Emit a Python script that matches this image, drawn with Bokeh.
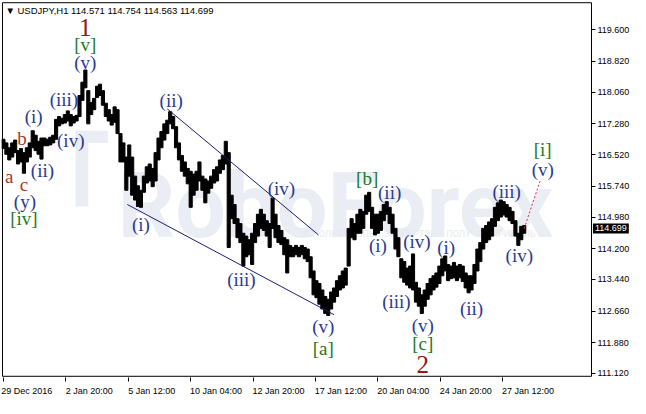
from bokeh.plotting import figure
from bokeh.models import FixedTicker, Label, Range1d, PrintfTickFormatter, LinearAxis
from bokeh.core.properties import value
from bokeh.embed import file_html
from bokeh.resources import INLINE

# ---------------- data ----------------
bar_index = list(range(0, 535, 3))
bar_high = [116.90, 116.81, 116.69, 116.81, 116.88, 116.62, 116.67, 116.57, 116.69, 116.81,
            117.11, 117.00, 116.85, 116.93, 116.93, 116.90, 116.95, 117.00, 117.39, 117.46,
            117.42, 117.51, 117.60, 117.51, 117.46, 117.49, 117.98, 118.31, 118.61, 118.10,
            117.81, 117.91, 118.21, 118.26, 118.10, 117.79, 117.63, 117.51, 117.70, 117.63,
            117.04, 116.81, 116.46, 116.76, 116.46, 115.99, 115.75, 115.64, 115.99, 116.22,
            116.29, 116.18, 116.57, 116.93, 117.09, 117.28, 117.37, 117.58, 117.46, 117.21,
            116.81, 116.50, 116.34, 116.18, 116.11, 116.04, 116.11, 116.34, 115.99, 115.92,
            115.87, 115.99, 116.15, 116.22, 116.39, 116.50, 116.85, 116.57, 115.52, 115.29,
            114.94, 114.82, 114.58, 114.51, 114.42, 114.58, 114.82, 115.05, 115.17, 115.05,
            114.89, 114.82, 115.45, 115.05, 114.77, 114.65, 114.47, 114.42, 114.28, 114.23,
            114.28, 114.23, 114.28, 114.23, 114.19, 114.00, 113.65, 113.41, 113.34, 113.18,
            113.02, 112.95, 113.13, 113.23, 113.41, 113.53, 113.65, 113.72, 114.70, 114.94,
            114.82, 115.05, 115.17, 115.12, 115.52, 115.59, 115.22, 115.05, 115.05, 115.12,
            115.29, 115.36, 115.22, 115.05, 114.70, 114.47, 113.95, 113.88, 113.72, 113.77,
            114.07, 113.37, 113.23, 113.06, 113.18, 113.34, 113.46, 113.53, 113.60, 113.77,
            113.95, 114.02, 113.81, 113.77, 113.86, 113.77, 113.81, 113.77, 113.60, 113.53,
            113.53, 113.81, 114.19, 114.35, 114.70, 114.77, 114.86, 114.94, 115.22, 115.33,
            115.40, 115.36, 115.29, 115.22, 115.12, 114.89, 114.58, 114.75, 114.77]
bar_low = [116.67, 116.53, 116.39, 116.46, 116.57, 116.29, 116.34, 116.06, 116.34, 116.46,
           116.69, 116.62, 116.53, 116.41, 116.74, 116.74, 116.76, 116.81, 116.90, 117.23,
           117.28, 117.30, 117.35, 117.23, 117.30, 117.35, 117.46, 117.86, 118.17, 117.28,
           117.51, 117.63, 117.93, 117.98, 117.74, 117.46, 117.35, 117.25, 117.32, 117.04,
           116.34, 116.34, 115.64, 115.99, 115.52, 115.40, 115.24, 115.22, 115.59, 115.82,
           115.87, 115.73, 115.87, 116.39, 116.69, 116.88, 117.04, 117.28, 117.16, 116.69,
           116.39, 116.11, 115.99, 115.80, 115.22, 115.52, 115.64, 115.87, 115.64, 115.33,
           115.57, 115.69, 115.82, 115.87, 116.06, 116.15, 116.29, 114.23, 114.94, 114.82,
           114.47, 114.35, 113.77, 114.00, 114.05, 113.81, 114.35, 114.51, 114.70, 114.65,
           114.51, 114.23, 114.70, 114.47, 114.35, 114.30, 114.05, 113.60, 114.00, 114.00,
           114.05, 114.00, 114.05, 113.95, 113.88, 113.48, 113.06, 112.99, 112.83, 112.71,
           112.60, 112.55, 112.71, 112.88, 113.02, 113.18, 113.23, 113.30, 113.77, 114.47,
           114.42, 114.58, 114.58, 114.70, 115.05, 115.12, 114.70, 114.54, 114.58, 114.65,
           114.89, 115.05, 114.82, 114.58, 114.19, 114.00, 113.48, 113.37, 113.30, 113.23,
           113.18, 112.88, 112.78, 112.60, 112.78, 112.95, 113.06, 113.18, 113.25, 113.34,
           113.53, 113.65, 113.41, 113.46, 113.48, 113.41, 113.48, 113.39, 113.23, 113.11,
           113.18, 113.34, 113.65, 113.88, 114.19, 114.35, 114.42, 114.51, 114.75, 114.89,
           114.98, 115.03, 114.98, 114.89, 114.82, 114.51, 114.28, 114.42, 114.58]

last_price = 114.699
title_text = "\u25bc USDJPY,H1  114.571 114.754 114.563 114.699"

x_tick_pos = [0, 64, 128, 192, 256, 320, 384, 448, 512]
x_tick_labels = ["29 Dec 2016", "2 Jan 20:00", "5 Jan 12:00", "10 Jan 04:00", "12 Jan 20:00",
                 "17 Jan 12:00", "20 Jan 04:00", "24 Jan 20:00", "27 Jan 12:00"]
y_ticks = [111.12, 111.88, 112.66, 113.44, 114.20, 114.98, 115.74, 116.52, 117.28, 118.06, 118.82, 119.60]

# wave labels
blue_text = ["(v)", "(iii)", "(i)", "(iv)", "(ii)", "(y)", "(ii)", "(i)", "(iii)", "(iv)", "(v)",
             "(ii)", "(i)", "(iv)", "(iii)", "(v)", "(i)", "(ii)", "(iii)", "(iv)", "(v)"]
blue_x = [84, 62, 31, 69, 40, 22, 172, 141, 244, 285, 328, 396, 384, 424, 403, 430, 454, 480, 516, 529, 553]
blue_y = [118.80, 117.89, 117.46, 116.88, 116.13, 115.36, 117.86, 114.79, 113.44, 115.68, 112.29,
          115.59, 114.28, 114.37, 112.90, 112.31, 114.23, 112.73, 115.61, 114.02, 116.15]

green_text = ["[v]", "[iv]", "[b]", "[a]", "[c]", "[i]"]
green_x = [84, 21, 373, 328, 430, 553]
green_y = [119.24, 114.94, 115.94, 111.73, 111.87, 116.64]

major_text = ["1", "2"]
major_x = [84, 430]
major_y = [119.66, 111.35]

minor_text = ["a", "b", "c"]
minor_x = [6, 19, 21]
minor_y = [115.99, 116.93, 115.78]

# channel lines (bar index, price)
chan_x0 = [168, 127]
chan_y0 = [117.65, 115.29]
chan_x1 = [323, 339]
chan_y1 = [114.54, 112.57]

# projected path
proj_x = [534, 551]
proj_y = [114.699, 115.92]

# chart window (bars / prices)
win_left, win_right = -1, 603
win_bottom, win_top = 111.05, 120.27

# ---------------- figure ----------------
p = figure(width=630, height=398, x_range=Range1d(-2, 643), y_range=Range1d(111.02, 120.30),
           y_axis_location=None, output_backend="svg", toolbar_location=None,
           min_border_left=1, min_border_top=1, min_border_right=0, min_border_bottom=0)
p.background_fill_color = "white"
p.border_fill_color = "white"
p.outline_line_color = None
p.xgrid.visible = False
p.ygrid.visible = False

# watermark
wm_color = "#eaeef4"
p.quad(left=[74, 74], right=[87, 107], bottom=[115.24, 116.81], top=[117.11, 117.11],
       fill_color=wm_color, line_color=None)
p.text(x=[117], y=[115.24], text=["RoboForex"], text_font=value("Roboto"), text_font_size="90px",
       text_font_style="bold", text_color=wm_color, text_align="left", text_baseline="alphabetic")
p.text(x=[425], y=[114.56], text=["ИСПОЛЬЗУЙ ОПЫТ ЭКСПЕРТОВ – ПОЛУЧАЙ ПРИБЫЛЬ"], text_font=value("Roboto"),
       text_font_size="9px", text_color="#e6eaf0", text_align="center", text_baseline="middle")

# price bars
p.vbar(x=bar_index, top=bar_high, bottom=bar_low, width=3.2, color="black")

# chart border
p.quad(left=[win_left], right=[win_right], bottom=[win_bottom], top=[win_top],
       fill_color=None, line_color="black", line_width=1)

# channel lines
p.segment(x0=chan_x0, y0=chan_y0, x1=chan_x1, y1=chan_y1, line_color="#1c1c78", line_width=1)
p.line(x=proj_x, y=proj_y, line_color="#e8304a", line_width=1, line_dash="2 2")

serif = value("Liberation Serif")
p.text(x=blue_x, y=blue_y, text=blue_text, text_font=serif, text_font_size="19px",
       text_color="#2c3a92", text_align="center", text_baseline="middle")
p.text(x=green_x, y=green_y, text=green_text, text_font=serif, text_font_size="19px",
       text_color="#1d7a1d", text_align="center", text_baseline="middle")
p.text(x=major_x, y=major_y, text=major_text, text_font=serif, text_font_size="25px",
       text_color="#8b1a1a", text_align="center", text_baseline="middle")
p.text(x=minor_x, y=minor_y, text=minor_text, text_font=serif, text_font_size="19px",
       text_color="#a83a22", text_align="center", text_baseline="middle")

# title
p.add_layout(Label(x=2, y=120.09, text=title_text, text_font="Liberation Sans", text_font_size="9.5px",
                   text_color="black", text_baseline="middle"))

# last price box
p.add_layout(Label(x=604.5, y=last_price, text=f"{last_price:.3f}", text_font="Liberation Sans",
                   text_font_size="9px", text_color="white", background_fill_color="black",
                   text_baseline="middle", padding=2))

# x axis: labels start at tick
centers = [round(t + 2.2 * len(l)) for t, l in zip(x_tick_pos, x_tick_labels)]
xa = p.xaxis[0]
xa.ticker = FixedTicker(ticks=centers, minor_ticks=x_tick_pos)
xa.major_label_overrides = {c: l for c, l in zip(centers, x_tick_labels)}
xa.major_tick_line_color = None
xa.major_tick_out = 0
xa.major_tick_in = 0
xa.minor_tick_line_color = "black"
xa.minor_tick_out = 4
xa.minor_tick_in = 0
xa.major_label_standoff = 4
xa.major_label_text_font = "Liberation Sans"
xa.major_label_text_font_size = "9px"
xa.major_label_text_color = "black"
xa.axis_line_color = None

# price axis drawn at the chart's right border
ya = LinearAxis(fixed_location=win_right, ticker=FixedTicker(ticks=y_ticks),
                formatter=PrintfTickFormatter(format="%.3f"))
ya.major_tick_out = 4
ya.major_tick_in = 0
ya.minor_tick_line_color = None
ya.major_label_standoff = 2
ya.major_label_text_font = "Liberation Sans"
ya.major_label_text_font_size = "9px"
ya.major_label_text_color = "black"
ya.axis_line_color = None
p.add_layout(ya, "right")

open("out.html", "w").write(file_html(p, INLINE))
